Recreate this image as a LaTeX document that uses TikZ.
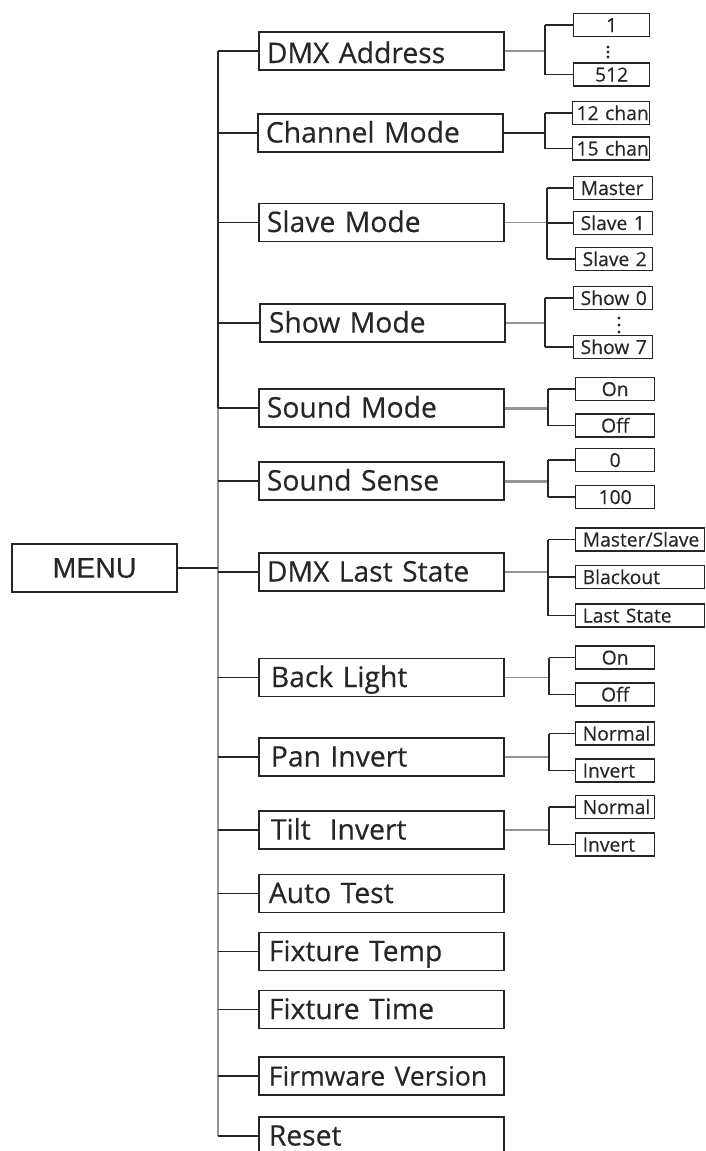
\documentclass[tikz,border=0pt]{standalone}
\usepackage{fontspec}
\setmainfont{Open Sans}[RawFeature={embolden=0.4}]
\newfontfamily\menufont{Liberation Sans}[RawFeature={embolden=0.3}]
\definecolor{ink}{HTML}{262626}
\definecolor{wire}{HTML}{959595}
\tikzset{
  mainbox/.style={draw=ink, line width=1.7pt, anchor=west, text width=229pt,
    inner xsep=8pt, inner ysep=0pt, minimum height=38pt, align=left,
    text height=20pt, text depth=1pt, font=\fontsize{28.3}{30}\selectfont, text=ink},
  menubox/.style={draw=ink, line width=1.7pt, minimum width=165pt, minimum height=48pt,
    inner sep=0pt, font=\menufont\fontsize{28.5}{30}\selectfont, text=ink},
  subbox/.style={draw=ink, line width=1.3pt, anchor=west, inner xsep=7pt, inner ysep=0pt,
    minimum height=23pt, text height=15pt, text depth=1pt,
    font=\fontsize{19.3}{20}\selectfont, text=ink},
  subL/.style={subbox, text width=#1, align=left},
  subC/.style={subbox, text width=#1, align=center},
  darkwire/.style={draw=ink, line width=1.4pt},
  graywire/.style={draw=wire, line width=1.8pt},
  thickgray/.style={draw=wire, line width=3pt},
  trunkgray/.style={draw=wire, line width=2.4pt},
}
\begin{document}
\begin{tikzpicture}[x=1pt, y=-1pt]
\useasboundingbox (0,0) rectangle (706,1151);

% MENU
\node[menubox] (menu) at (94.5,568) {MENU};

% main boxes
\node[mainbox, text height=24pt, text depth=0pt] (dmx) at (258,51) {DMX Address};
\node[mainbox] (chan)  at (257,133)   {Channel Mode};
\node[mainbox] (slave) at (258,222.5) {Slave Mode};
\node[mainbox] (show)  at (259,323)   {\hspace*{1pt}Show Mode};
\node[mainbox] (sndm)  at (258,408)   {Sound Mode};
\node[mainbox] (snds)  at (258,481)   {Sound Sense};
\node[mainbox] (last)  at (258,572)   {DMX Last State};
\node[mainbox] (back)  at (258,677.5) {\hspace*{4pt}Back Light};
\node[mainbox] (pan)   at (258,757)   {\hspace*{4pt}Pan Invert};
\node[mainbox] (tilt)  at (258,830)   {\hspace*{4pt}Tilt~~Invert};
\node[mainbox] (auto)  at (258,893.5) {\hspace*{2pt}Auto Test};
\node[mainbox] (ftemp) at (258,951.5) {\hspace*{2pt}Fixture Temp};
\node[mainbox] (ftime) at (258,1009.5){\hspace*{2pt}Fixture Time};
\node[mainbox] (firm)  at (258,1076)  {\hspace*{2pt}\fontsize{26.5}{28}\selectfont Firmware Version};
\node[mainbox] (reset) at (258,1136)  {\hspace*{2pt}Reset};

% main trunk
\coordinate (ttop) at (218,51);
\draw[darkwire] (ttop) -- (sndm.west -| ttop);
\draw[trunkgray] (sndm.west -| ttop) -- (reset.west -| ttop);
\draw[darkwire] (menu.east) -- (menu.east -| ttop);
\foreach \n in {dmx,chan,slave,show,sndm,snds,last,back,pan,tilt,auto,ftemp,ftime,firm,reset}{
  \draw[darkwire] (\n.west -| ttop) -- (\n.west);
}

% sub boxes
\node[subC=62pt] (a1)   at (573,25)    {1};
\node[subC=62pt] (a512) at (573,74.5)  {512};
\node[subL=69pt, inner xsep=4pt] (c12)  at (572,113)   {\mbox{12 chan}};
\node[subL=69pt, inner xsep=4pt] (c15)  at (572,148.5) {\mbox{15 chan}};
\node[subL=65pt] (smas) at (573,188)   {Master};
\node[subL=65pt] (ss1)  at (573,223)   {\mbox{Slave 1}};
\node[subL=63pt] (ss2)  at (575,259)   {\mbox{Slave 2}};
\node[subL=65pt] (sh0)  at (573,298)   {\mbox{Show 0}};
\node[subL=65pt] (sh7)  at (573,347)   {\mbox{Show 7}};
\node[subC=65pt] (mon)  at (575,389)   {On};
\node[subC=65pt] (moff) at (575,425.5) {Off};
\node[subC=65pt] (z0)   at (575,460)   {0};
\node[subC=65pt] (z100) at (575,497)   {100};
\node[subL=115pt] (lms) at (575,539.5) {\mbox{Master/Slave}};
\node[subL=115pt] (lbo) at (575,577)   {Blackout};
\node[subL=115pt] (lls) at (575,615.5) {\mbox{Last State}};
\node[subC=65pt] (bon)  at (575,657.5) {On};
\node[subC=65pt] (boff) at (575,694.5) {Off};
\node[subL=65pt] (pn)   at (575,733.5) {Normal};
\node[subL=65pt] (pi)   at (575,770.5) {Invert};
\node[subL=65pt] (tn)   at (575,807)   {Normal};
\node[subL=65pt] (ti)   at (575,844.5) {Invert};

% vertical dots
\fill[ink] (608,47) circle (1.6) (608,52) circle (1.6) (608,57) circle (1.6);
\fill[ink] (619,318) circle (1.6) (619,325) circle (1.6) (619,332) circle (1.6);

% sub trunks
\coordinate (j1) at (545,0);
\draw[graywire] (dmx.east) -- (dmx.east -| j1);
\draw[darkwire] (a1.west -| j1) -- (a512.west -| j1);
\draw[darkwire] (a1.west -| j1) -- (a1.west);
\draw[darkwire] (a512.west -| j1) -- (a512.west);

\coordinate (j2) at (545,0);
\draw[darkwire] (chan.east) -- (chan.east -| j2);
\draw[darkwire] (c12.west -| j2) -- (c15.west -| j2);
\draw[darkwire] (c12.west -| j2) -- (c12.west);
\draw[darkwire] (c15.west -| j2) -- (c15.west);

\coordinate (j3) at (547,0);
\draw[graywire] (slave.east) -- (slave.east -| j3);
\draw[darkwire] (smas.west -| j3) -- (ss2.west -| j3);
\draw[darkwire] (smas.west -| j3) -- (smas.west);
\draw[darkwire] (ss1.west -| j3) -- (ss1.west);
\draw[darkwire] (ss2.west -| j3) -- (ss2.west);

\coordinate (j4) at (545,0);
\draw[graywire] (show.east) -- (show.east -| j4);
\draw[darkwire] (sh0.west -| j4) -- (sh7.west -| j4);
\draw[darkwire] (sh0.west -| j4) -- (sh0.west);
\draw[darkwire] (sh7.west -| j4) -- (sh7.west);

\coordinate (j5) at (548,0);
\draw[thickgray] (sndm.east) -- (sndm.east -| j5);
\draw[darkwire] (mon.west -| j5) -- (moff.west -| j5);
\draw[darkwire] (mon.west -| j5) -- (mon.west);
\draw[darkwire] (moff.west -| j5) -- (moff.west);

\coordinate (j6) at (548,0);
\draw[thickgray] (snds.east) -- (snds.east -| j6);
\draw[darkwire] (z0.west -| j6) -- (z100.west -| j6);
\draw[darkwire] (z0.west -| j6) -- (z0.west);
\draw[darkwire] (z100.west -| j6) -- (z100.west);

\coordinate (j7) at (548,0);
\draw[graywire] (last.east) -- (last.east -| j7);
\draw[darkwire] (lms.west -| j7) -- (lls.west -| j7);
\draw[darkwire] (lms.west -| j7) -- (lms.west);
\draw[darkwire] (lbo.west -| j7) -- (lbo.west);
\draw[darkwire] (lls.west -| j7) -- (lls.west);

\coordinate (j8) at (549,0);
\draw[graywire] (back.east) -- (back.east -| j8);
\draw[darkwire] (bon.west -| j8) -- (boff.west -| j8);
\draw[darkwire] (bon.west -| j8) -- (bon.west);
\draw[darkwire] (boff.west -| j8) -- (boff.west);

\draw[graywire] (pan.east) -- (pan.east -| j8);
\draw[darkwire] (pn.west -| j8) -- (pi.west -| j8);
\draw[darkwire] (pn.west -| j8) -- (pn.west);
\draw[darkwire] (pi.west -| j8) -- (pi.west);

\draw[graywire] (tilt.east) -- (tilt.east -| j8);
\draw[darkwire] (tn.west -| j8) -- (ti.west -| j8);
\draw[darkwire] (tn.west -| j8) -- (tn.west);
\draw[darkwire] (ti.west -| j8) -- (ti.west);
\end{tikzpicture}
\end{document}
